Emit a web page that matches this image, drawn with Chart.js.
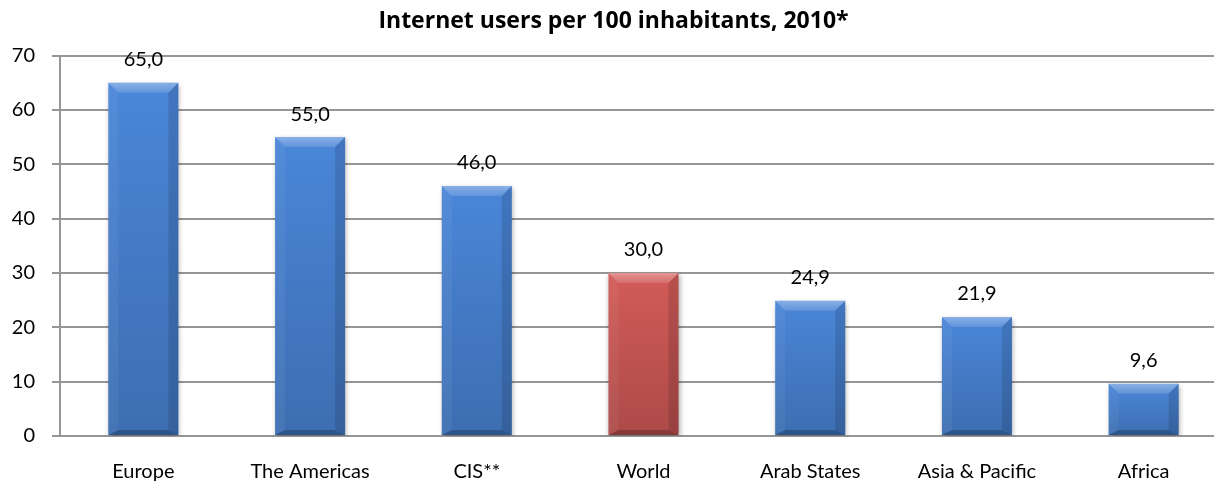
<!DOCTYPE html>
<html>
<head>
<meta charset="utf-8">
<script src="https://cdn.jsdelivr.net/npm/chart.js@4.4.1/dist/chart.umd.min.js"></script>
<style>
  html, body { margin: 0; padding: 0; background: #fff; overflow: hidden; }
  #wrap { width: 1228px; height: 483px; }
</style>
</head>
<body>
<div id="wrap"><canvas id="usersChart" width="1228" height="483"></canvas></div>
<script>
// chart data
const regions = ['Europe', 'The Americas', 'CIS**', 'World', 'Arab States', 'Asia & Pacific', 'Africa'];
const usersPer100 = [65.0, 55.0, 46.0, 30.0, 24.9, 21.9, 9.6];
const yTicks = [0, 10, 20, 30, 40, 50, 60, 70];
const highlighted = 'World';

const FONT = 'Lato, "Open Sans", sans-serif';

// bar colours: world average in red, regions in blue
const barColors = regions.map(r => r === highlighted ? '#D25B58' : '#4A86D8');

// draw Excel-like bevel on each bar
const bevelPlugin = {
  id: 'bevel',
  beforeDatasetDraw(chart) {
    const ctx = chart.ctx;
    ctx.save();
    ctx.shadowColor = 'rgba(0,0,0,0.35)';
    ctx.shadowBlur = 5;
    ctx.shadowOffsetX = 1;
    ctx.shadowOffsetY = 2;
  },
  afterDatasetDraw(chart) {
    const ctx = chart.ctx;
    ctx.restore();
    const meta = chart.getDatasetMeta(0);
    meta.data.forEach(bar => {
      const p = bar.getProps(['x', 'y', 'base', 'width'], true);
      const l = p.x - p.width / 2, r = p.x + p.width / 2;
      const t = p.y, b = p.base;
      const bv = Math.min(10, (b - t) / 2);
      const bb = Math.min(5, (b - t) / 4);

      // darken towards the bottom
      const g = ctx.createLinearGradient(0, t, 0, b);
      g.addColorStop(0, 'rgba(0,0,0,0)');
      g.addColorStop(1, 'rgba(0,0,0,0.18)');
      ctx.fillStyle = g;
      ctx.fillRect(l, t, r - l, b - t);

      // top bevel
      const tg = ctx.createLinearGradient(0, t, 0, t + bv);
      tg.addColorStop(0, 'rgba(255,255,255,0.35)');
      tg.addColorStop(1, 'rgba(255,255,255,0.12)');
      ctx.beginPath();
      ctx.moveTo(l, t); ctx.lineTo(r, t);
      ctx.lineTo(r - bv, t + bv); ctx.lineTo(l + bv, t + bv);
      ctx.closePath();
      ctx.fillStyle = tg;
      ctx.fill();

      // left bevel
      ctx.beginPath();
      ctx.moveTo(l, t); ctx.lineTo(l + bv, t + bv);
      ctx.lineTo(l + bv, b - bb); ctx.lineTo(l, b);
      ctx.closePath();
      ctx.fillStyle = 'rgba(255,255,255,0.05)';
      ctx.fill();

      // right bevel
      ctx.beginPath();
      ctx.moveTo(r, t); ctx.lineTo(r - bv, t + bv);
      ctx.lineTo(r - bv, b - bb); ctx.lineTo(r, b);
      ctx.closePath();
      ctx.fillStyle = 'rgba(0,0,0,0.12)';
      ctx.fill();

      // bottom bevel
      ctx.beginPath();
      ctx.moveTo(l, b); ctx.lineTo(l + bv, b - bb);
      ctx.lineTo(r - bv, b - bb); ctx.lineTo(r, b);
      ctx.closePath();
      ctx.fillStyle = 'rgba(0,0,0,0.22)';
      ctx.fill();
    });
  }
};

// value labels above the bars, decimal comma
const valueLabels = {
  id: 'valueLabels',
  afterDatasetsDraw(chart) {
    const ctx = chart.ctx;
    const meta = chart.getDatasetMeta(0);
    ctx.save();
    ctx.font = '20px ' + FONT;
    ctx.fillStyle = '#000';
    ctx.textAlign = 'center';
    ctx.textBaseline = 'middle';
    meta.data.forEach((bar, i) => {
      const txt = usersPer100[i].toFixed(1).replace('.', ',');
      ctx.fillText(txt, bar.x, bar.y - 23);
    });
    ctx.restore();
  }
};

new Chart(document.getElementById('usersChart'), {
  type: 'bar',
  data: {
    labels: regions,
    datasets: [{
      data: usersPer100,
      backgroundColor: barColors,
      borderWidth: 0,
      barPercentage: 0.42,
      categoryPercentage: 1
    }]
  },
  options: {
    responsive: false,
    animation: false,
    devicePixelRatio: 1,
    layout: { padding: { left: 0, right: 1, top: 0, bottom: 0 } },
    plugins: {
      legend: { display: false },
      tooltip: { enabled: false },
      title: {
        display: true,
        text: 'Internet users per 100 inhabitants, 2010*',
        color: '#000',
        font: { family: '"Open Sans", sans-serif', size: 23, weight: 'bold', lineHeight: 1.2 },
        padding: { top: 8, bottom: 20 }
      }
    },
    scales: {
      x: {
        grid: { display: false },
        border: { display: false },
        ticks: {
          color: '#000',
          font: { family: FONT, size: 20 },
          padding: 16,
          maxRotation: 0,
          autoSkip: false
        },
        afterFit: s => { s.height = 47; }
      },
      y: {
        min: 0,
        max: 70,
        afterBuildTicks: s => { s.ticks = yTicks.map(v => ({ value: v })); },
        grid: { color: '#969696', lineWidth: 2, tickLength: 8 },
        border: { color: '#969696', width: 2 },
        ticks: {
          color: '#000',
          font: { family: FONT, size: 20 },
          padding: 17
        },
        afterFit: s => { s.width = 60; }
      }
    }
  },
  plugins: [bevelPlugin, valueLabels]
});
</script>
</body>
</html>
